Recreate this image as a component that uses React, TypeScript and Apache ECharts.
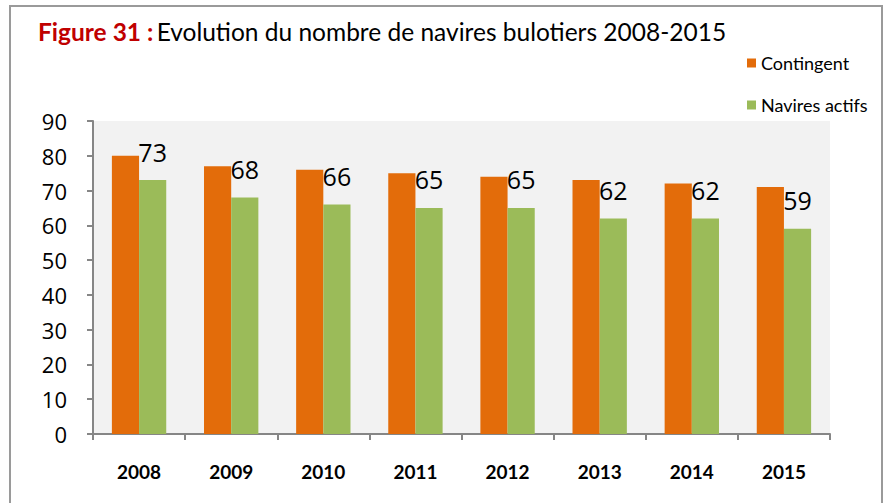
import React, { useEffect, useRef } from "react";
import * as echarts from "echarts";

const years = ["2008", "2009", "2010", "2011", "2012", "2013", "2014", "2015"];
const contingent = [80, 77, 76, 75, 74, 73, 72, 71];
const actifs = [73, 68, 66, 65, 65, 62, 62, 59];
const seriesNames = ["Contingent", "Navires actifs"];

export default function App() {
  const ref = useRef<HTMLDivElement>(null);
  useEffect(() => {
    if (!ref.current) return;
    const chart = echarts.init(ref.current, null, { renderer: "svg" });
    const narrow = "Lato, 'Open Sans', sans-serif";
    chart.setOption({
      animation: false,
      backgroundColor: "#ffffff",
      graphic: [
        {
          type: "rect",
          shape: { x: 10, y: 6, width: 872, height: 600 },
          style: { fill: "none", stroke: "#9a9a9a", lineWidth: 2 },
          silent: true,
        },
        {
          type: "text",
          left: 38,
          top: 19,
          style: {
            text: "{r|Figure 31 :} {b|Evolution du nombre de navires bulotiers 2008-2015}",
            rich: {
              r: { fontFamily: narrow, fontSize: 24.5, fontWeight: "bold", fill: "#C00000" },
              b: { fontFamily: narrow, fontSize: 24.5, fill: "#000000" },
            },
          },
        },
      ],
      legend: {
        orient: "vertical",
        left: 742,
        top: 49,
        itemWidth: 9,
        itemHeight: 9,
        itemGap: 24,
        icon: "rect",
        textStyle: { fontFamily: narrow, fontSize: 18, color: "#000", padding: [0, 0, 0, 0] },
        data: seriesNames,
      },
      grid: { left: 93, right: 56, top: 121, bottom: 69, backgroundColor: "#F2F2F2", show: true, borderWidth: 0 },
      xAxis: {
        type: "category",
        data: years,
        axisLine: { lineStyle: { color: "#868686", width: 2 } },
        axisTick: { show: true, length: 6, interval: 0, lineStyle: { color: "#868686", width: 2 } },
        axisLabel: { fontFamily: narrow, fontWeight: "bold", fontSize: 19, color: "#000", margin: 28 },
      },
      yAxis: {
        type: "value",
        min: 0,
        max: 90,
        interval: 10,
        axisLine: { show: true, lineStyle: { color: "#868686", width: 2 } },
        axisTick: { show: true, length: 6, lineStyle: { color: "#868686", width: 2 } },
        splitLine: { show: false },
        axisLabel: { fontFamily: "'Open Sans', sans-serif", fontSize: 22, color: "#000", margin: 26 },
      },
      series: [
        {
          name: seriesNames[0],
          type: "bar",
          data: contingent,
          barGap: "0%",
          barCategoryGap: "41%",
          itemStyle: { color: "#E36C0A" },
        },
        {
          name: seriesNames[1],
          type: "bar",
          data: actifs,
          itemStyle: { color: "#9BBB59" },
          label: {
            show: true,
            position: "top",
            distance: 16,
            fontFamily: "'Open Sans', sans-serif",
            fontSize: 25,
            color: "#000",
          },
        },
      ],
    });
    return () => chart.dispose();
  }, []);
  return <div ref={ref} style={{ position: "fixed", left: 0, top: 0, width: 886, height: 503 }} />;
}
